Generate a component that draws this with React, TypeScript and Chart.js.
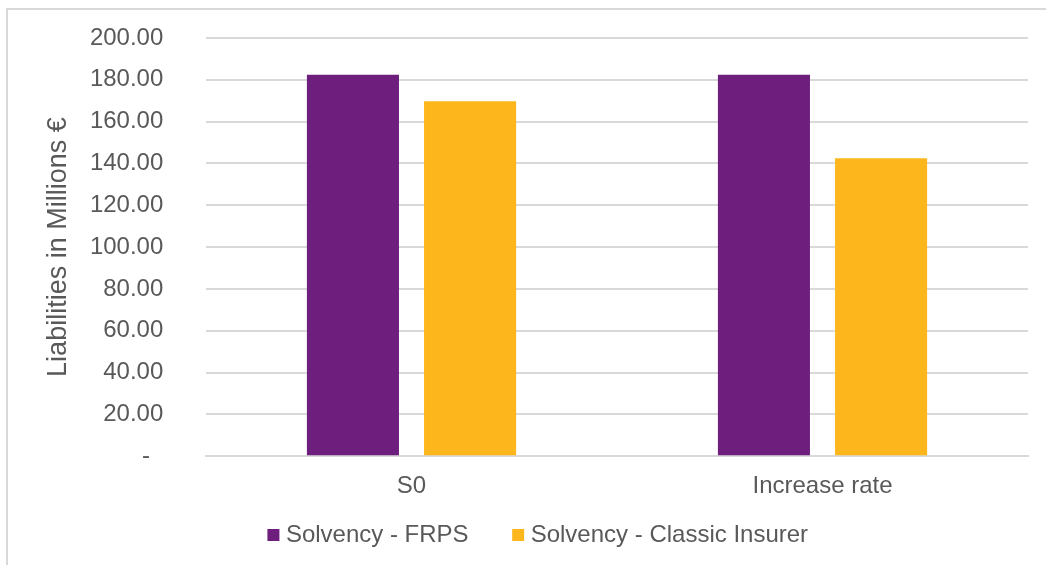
import React, { useEffect, useRef } from "react";
import { Chart, registerables } from "chart.js";

Chart.register(...registerables);

const categories = ["S0", "Increase rate"];
const seriesNames = ["Solvency - FRPS", "Solvency - Classic Insurer"];
const frpsValues = [182.4, 182.4];
const classicValues = [169.8, 142.5];
const yTicks = [0, 20, 40, 60, 80, 100, 120, 140, 160, 180, 200];

const FONT = "'Liberation Sans', Arial, sans-serif";
const TEXT = "#595959";
const FS = "\u2007";

export default function App() {
  const ref = useRef<HTMLCanvasElement | null>(null);

  useEffect(() => {
    if (!ref.current) return;
    const chart = new Chart(ref.current, {
      type: "bar",
      data: {
        labels: categories,
        datasets: [
          {
            label: seriesNames[0],
            data: frpsValues,
            backgroundColor: "#6E1F7D",
            borderWidth: 0,
            categoryPercentage: 0.57,
            barPercentage: 0.786,
          },
          {
            label: seriesNames[1],
            data: classicValues,
            backgroundColor: "#FDB71C",
            borderWidth: 0,
            categoryPercentage: 0.57,
            barPercentage: 0.786,
          },
        ],
      },
      options: {
        animation: false,
        responsive: false,
        maintainAspectRatio: false,
        layout: { padding: { left: 53, right: 18, top: 38, bottom: 8 } },
        plugins: {
          tooltip: { enabled: false },
          legend: {
            position: "bottom",
            labels: {
              usePointStyle: true,
              pointStyle: "rect",
              boxWidth: 1,
              boxHeight: 12,
              padding: 9,
              color: TEXT,
              font: { family: FONT, size: 24 },
              generateLabels: (c: any) => {
                const items = Chart.defaults.plugins.legend.labels.generateLabels(c);
                return items.map((it: any, i: number) => ({
                  ...it,
                  text: i === 0 ? it.text + FS + FS + FS : it.text,
                }));
              },
            },
          },
        },
        scales: {
          x: {
            grid: { display: false, drawTicks: false },
            border: { display: true, color: "#d9d9d9", width: 2 },
            afterFit: (scale: any) => {
              scale.height = scale.height - 3;
            },
            ticks: {
              color: TEXT,
              font: { family: FONT, size: 24 },
              padding: 16,
            },
          },
          y: {
            min: 0,
            max: 200,
            afterBuildTicks: (scale: any) => {
              scale.ticks = yTicks.map((v) => ({ value: v }));
            },
            afterFit: (scale: any) => {
              scale.width = 153;
            },
            grid: { color: "#d9d9d9", lineWidth: 2, drawTicks: false },
            border: { display: false },
            ticks: {
              color: TEXT,
              font: { family: FONT, size: 24 },
              padding: 16,
              callback: (v: any) =>
                Number(v) === 0 ? "-" + FS + FS + FS : Number(v).toFixed(2) + FS + FS,
            },
            title: {
              display: true,
              text: "Liabilities in Millions €",
              color: TEXT,
              font: { family: FONT, size: 27, weight: "normal" },
              padding: { top: -11, bottom: 0 },
            },
          },
        },
      },
    });
    return () => chart.destroy();
  }, []);

  return (
    <div>
      <div
        style={{
          position: "absolute",
          left: 6,
          top: 8,
          width: 1100,
          height: 600,
          border: "2px solid #d9d9d9",
          boxSizing: "border-box",
        }}
      />
      <canvas
        ref={ref}
        width={1046}
        height={565}
        style={{ position: "absolute", left: 0, top: 0, width: 1046, height: 565 }}
      />
    </div>
  );
}
